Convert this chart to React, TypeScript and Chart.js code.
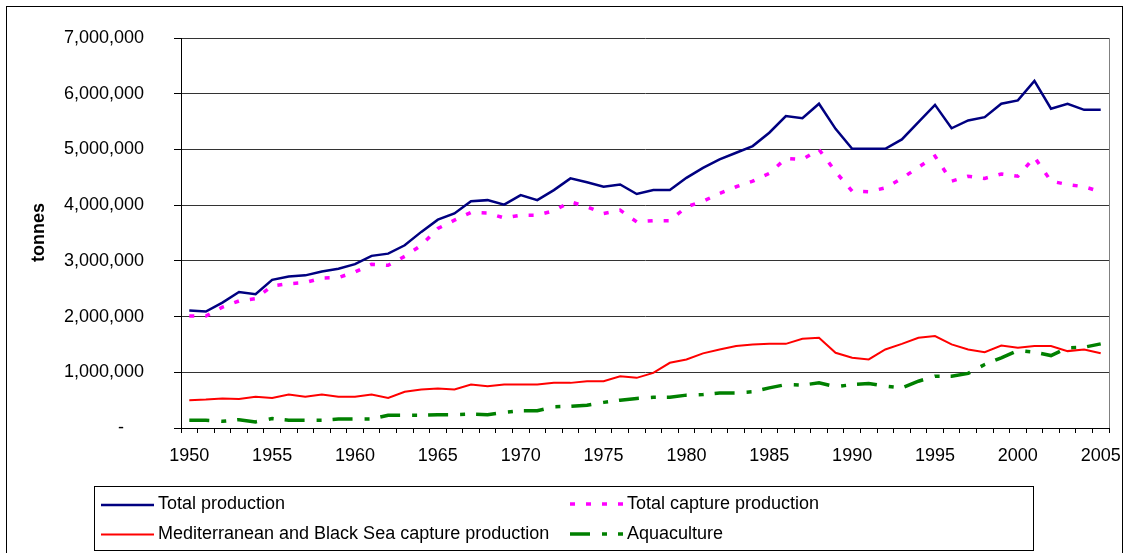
import React, { useEffect, useRef } from "react";
import { Chart, registerables } from "chart.js";

Chart.register(...registerables);

const years = [
  "1950", "1951", "1952", "1953", "1954", "1955", "1956", "1957", "1958", "1959",
  "1960", "1961", "1962", "1963", "1964", "1965", "1966", "1967", "1968", "1969",
  "1970", "1971", "1972", "1973", "1974", "1975", "1976", "1977", "1978", "1979",
  "1980", "1981", "1982", "1983", "1984", "1985", "1986", "1987", "1988", "1989",
  "1990", "1991", "1992", "1993", "1994", "1995", "1996", "1997", "1998", "1999",
  "2000", "2001", "2002", "2003", "2004", "2005",
];

const totalProduction = [
  2110000, 2090000, 2250000, 2440000, 2400000, 2660000, 2720000, 2740000, 2810000, 2860000,
  2940000, 3090000, 3130000, 3280000, 3520000, 3740000, 3850000, 4070000, 4090000, 4010000,
  4180000, 4090000, 4270000, 4480000, 4410000, 4330000, 4370000, 4200000, 4270000, 4270000,
  4490000, 4670000, 4820000, 4940000, 5060000, 5300000, 5600000, 5560000, 5820000, 5370000,
  5010000, 5010000, 5010000, 5180000, 5490000, 5800000, 5380000, 5520000, 5580000, 5820000,
  5880000, 6230000, 5730000, 5820000, 5710000, 5710000,
];

const totalCapture = [
  2010000, 2010000, 2170000, 2280000, 2320000, 2550000, 2590000, 2610000, 2690000, 2700000,
  2800000, 2940000, 2920000, 3080000, 3280000, 3580000, 3730000, 3870000, 3860000, 3770000,
  3820000, 3820000, 3900000, 4060000, 3970000, 3850000, 3910000, 3700000, 3720000, 3720000,
  3970000, 4070000, 4210000, 4330000, 4430000, 4570000, 4840000, 4820000, 5000000, 4600000,
  4250000, 4240000, 4310000, 4480000, 4680000, 4880000, 4430000, 4520000, 4480000, 4560000,
  4520000, 4860000, 4430000, 4370000, 4330000, 4240000,
];

const medBlackSeaCapture = [
  500000, 510000, 530000, 520000, 560000, 540000, 600000, 560000, 600000, 560000,
  560000, 600000, 540000, 650000, 690000, 710000, 690000, 780000, 750000, 780000,
  780000, 780000, 810000, 810000, 840000, 840000, 930000, 900000, 990000, 1170000,
  1230000, 1340000, 1410000, 1470000, 1500000, 1510000, 1510000, 1600000, 1620000, 1350000,
  1260000, 1230000, 1410000, 1510000, 1620000, 1650000, 1500000, 1410000, 1360000, 1480000,
  1440000, 1470000, 1470000, 1380000, 1410000, 1340000,
];

const aquaculture = [
  140000, 140000, 120000, 150000, 110000, 170000, 140000, 140000, 140000, 160000,
  160000, 160000, 230000, 230000, 230000, 240000, 240000, 250000, 240000, 280000,
  310000, 310000, 380000, 390000, 410000, 460000, 500000, 530000, 550000, 550000,
  590000, 600000, 630000, 630000, 650000, 720000, 780000, 770000, 810000, 740000,
  780000, 800000, 750000, 720000, 840000, 930000, 930000, 980000, 1140000, 1260000,
  1390000, 1360000, 1300000, 1440000, 1450000, 1510000,
];

const yTickValues = [0, 1000000, 2000000, 3000000, 4000000, 5000000, 6000000, 7000000];

const FONT = "'Liberation Sans', Arial, Helvetica, sans-serif";

const seriesStyles = [
  { label: "Total production", data: totalProduction, color: "#000080", width: 2.5, dash: [] as number[] },
  { label: "Total capture production", data: totalCapture, color: "#FF00FF", width: 3.5, dash: [5, 11] },
  { label: "Mediterranean and Black Sea capture production", data: medBlackSeaCapture, color: "#FF0000", width: 2, dash: [] as number[] },
  { label: "Aquaculture", data: aquaculture, color: "#008000", width: 3.5, dash: [20, 12, 5, 11] },
];

const decorPlugin = {
  id: "decor",
  beforeDraw(chart: any) {
    const ctx = chart.ctx;
    ctx.save();
    ctx.fillStyle = "#ffffff";
    ctx.fillRect(0, 0, chart.width, chart.height);
    ctx.strokeStyle = "#000";
    ctx.lineWidth = 1;
    ctx.strokeRect(6.5, 6.5, 1116, 600);
    ctx.restore();
  },
  afterDraw(chart: any) {
    const ctx = chart.ctx;
    const ca = chart.chartArea;
    ctx.save();
    // right border of plot area
    ctx.strokeStyle = "#808080";
    ctx.lineWidth = 1;
    ctx.beginPath();
    ctx.moveTo(Math.round(ca.right) + 0.5, ca.top);
    ctx.lineTo(Math.round(ca.right) + 0.5, ca.bottom);
    ctx.stroke();

    // y axis title
    ctx.save();
    ctx.translate(43.5, 232.5);
    ctx.rotate(-Math.PI / 2);
    ctx.fillStyle = "#000";
    ctx.font = `bold 18px ${FONT}`;
    ctx.textAlign = "center";
    ctx.textBaseline = "alphabetic";
    ctx.fillText("tonnes", 0, 0);
    ctx.restore();

    // legend box
    ctx.strokeStyle = "#000";
    ctx.lineWidth = 1;
    ctx.strokeRect(94.5, 486.5, 939, 64);

    const entries = [
      { s: seriesStyles[0], x: 101, y: 505, ty: 509 },
      { s: seriesStyles[1], x: 570, y: 504, ty: 509 },
      { s: seriesStyles[2], x: 101, y: 534.5, ty: 539 },
      { s: seriesStyles[3], x: 570, y: 534, ty: 539 },
    ];
    entries.forEach((e) => {
      ctx.save();
      ctx.strokeStyle = e.s.color;
      ctx.lineWidth = e.s.width;
      ctx.setLineDash(e.s.dash);
      ctx.beginPath();
      ctx.moveTo(e.x, e.y);
      ctx.lineTo(e.x + 53, e.y);
      ctx.stroke();
      ctx.restore();
      ctx.fillStyle = "#000";
      ctx.font = `18px ${FONT}`;
      ctx.textAlign = "left";
      ctx.textBaseline = "alphabetic";
      ctx.fillText(e.s.label, e.x + 57, e.ty);
    });
    ctx.restore();
  },
};

export default function App() {
  const canvasRef = useRef<HTMLCanvasElement | null>(null);

  useEffect(() => {
    if (!canvasRef.current) return;
    const chart = new Chart(canvasRef.current, {
      type: "line",
      data: {
        labels: years,
        datasets: seriesStyles.map((s) => ({
          label: s.label,
          data: s.data,
          borderColor: s.color,
          backgroundColor: s.color,
          borderWidth: s.width,
          borderDash: s.dash,
          pointRadius: 0,
          pointHoverRadius: 0,
          tension: 0,
          fill: false,
          borderCapStyle: "butt" as const,
        })),
      },
      options: {
        animation: false,
        responsive: true,
        maintainAspectRatio: false,
        devicePixelRatio: 1,
        layout: { padding: { left: 0, top: 38, right: 15, bottom: 85 } },
        plugins: {
          legend: { display: false },
          tooltip: { enabled: false },
          title: { display: false },
        },
        scales: {
          x: {
            type: "category",
            offset: true,
            grid: {
              offset: true,
              drawOnChartArea: false,
              drawTicks: true,
              tickLength: 5,
              color: "#000",
              tickColor: "#000",
            },
            border: { display: true, color: "#000", width: 1 },
            ticks: {
              autoSkip: false,
              maxRotation: 0,
              minRotation: 0,
              padding: 12,
              color: "#000",
              font: { family: FONT, size: 18 },
              callback: function (this: any, val: any) {
                const lab = String(this.getLabelForValue(val));
                return Number(lab) % 5 === 0 ? lab : "";
              },
            },
            afterFit: (scale: any) => {
              scale.height = 40;
              scale.paddingLeft = 0;
              scale.paddingRight = 0;
              scale.paddingTop = 0;
              scale.paddingBottom = 0;
            },
          },
          y: {
            min: 0,
            max: 7000000,
            afterBuildTicks: (scale: any) => {
              scale.ticks = yTickValues.map((v) => ({ value: v }));
            },
            grid: {
              color: "#333",
              lineWidth: 1,
              drawTicks: true,
              tickLength: 7,
              tickColor: "#000",
            },
            border: { display: true, color: "#000", width: 1 },
            ticks: {
              padding: 30,
              color: "#000",
              font: { family: FONT, size: 18 },
              callback: (v: any) => (Number(v) === 0 ? "-    " : Number(v).toLocaleString("en-US")),
            },
            afterFit: (scale: any) => {
              scale.width = 181;
              scale.paddingLeft = 0;
              scale.paddingRight = 0;
              scale.paddingTop = 0;
              scale.paddingBottom = 0;
            },
          },
        },
      },
      plugins: [decorPlugin],
    });
    return () => chart.destroy();
  }, []);

  return (
    <div style={{ position: "fixed", left: 0, top: 0, width: 1124, height: 553, background: "#fff" }}>
      <canvas ref={canvasRef} />
    </div>
  );
}
